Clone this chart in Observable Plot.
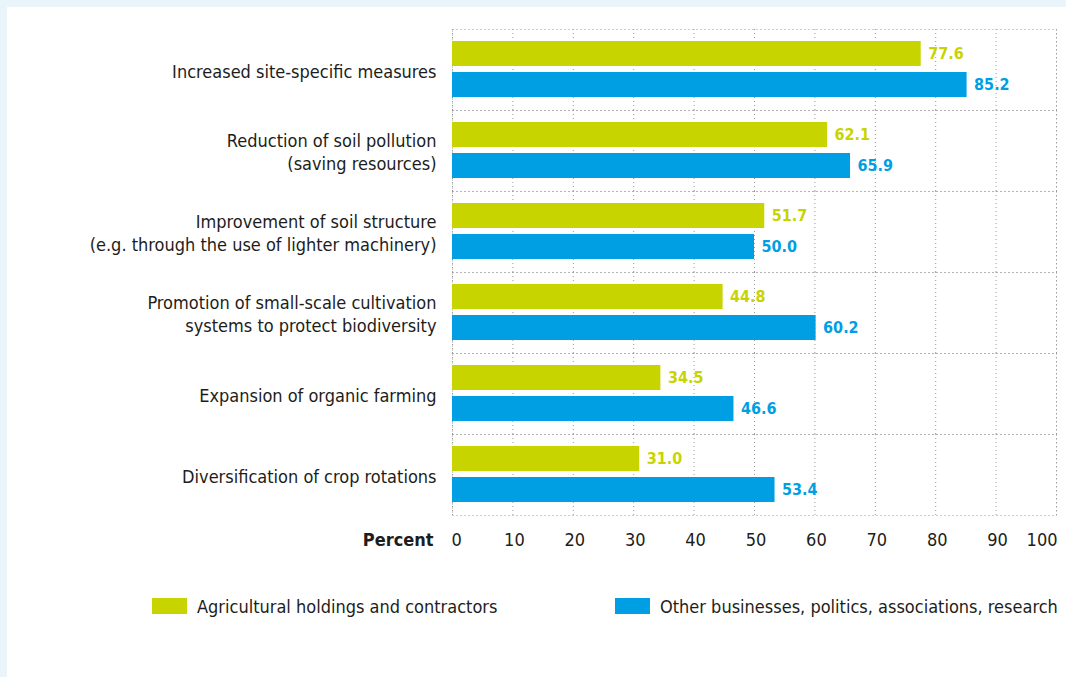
<!DOCTYPE html>
<html>
<head>
<meta charset="utf-8">
<script src="https://cdn.jsdelivr.net/npm/d3@7"></script>
<script src="https://cdn.jsdelivr.net/npm/@observablehq/plot@0.6"></script>
<style>
  html, body { margin: 0; padding: 0; width: 1066px; height: 677px; overflow: hidden; background: #eaf5fb; }
  #panel { position: absolute; left: 7px; top: 7px; right: 0; bottom: 0; background: #ffffff; }
  #chart { position: absolute; left: 0; top: 0; }
  .lg { position: absolute; display: flex; align-items: center; font-family: "DejaVu Sans Condensed", sans-serif; font-size: 18px; color: #1d1d1b; }
  .sw { width: 35px; height: 16px; margin-right: 10px; }
</style>
</head>
<body>
<div id="panel">
  <div id="chart"></div>
</div>
<script>
const categories = [
  "Increased site-specific measures",
  "Reduction of soil pollution\n(saving resources)",
  "Improvement of soil structure\n(e.g. through the use of lighter machinery)",
  "Promotion of small-scale cultivation\nsystems to protect biodiversity",
  "Expansion of organic farming",
  "Diversification of crop rotations"
];
const seriesNames = ["Agricultural holdings and contractors", "Other businesses, politics, associations, research"];
const agri = [77.6, 62.1, 51.7, 44.8, 34.5, 31.0];
const other = [85.2, 65.9, 50.0, 60.2, 46.6, 53.4];
const xTicks = [0, 10, 20, 30, 40, 50, 60, 70, 80, 90, 100];
const axisLabel = "Percent";
const colors = ["#c8d400", "#009fe3"];

const data = [];
categories.forEach((c, i) => {
  data.push({cat: c, series: seriesNames[0], value: agri[i]});
  data.push({cat: c, series: seriesNames[1], value: other[i]});
});
const lastCat = categories[categories.length - 1];
const font = "DejaVu Sans Condensed, sans-serif";
const ink = "#1d1d1b";

const chart = Plot.plot({
  width: 1059,
  height: 560,
  marginLeft: 445,
  marginRight: 10,
  marginTop: 21,
  marginBottom: 52,
  style: {fontFamily: font, background: "transparent", overflow: "visible"},
  x: {domain: [0, 100], axis: null},
  y: {domain: seriesNames, paddingInner: 0.1875, paddingOuter: 0.36, axis: null},
  fy: {domain: categories, padding: 0, axis: null},
  color: {domain: seriesNames, range: colors},
  marks: [
    Plot.gridX(xTicks, {stroke: "#9a9a9a", strokeOpacity: 1, strokeDasharray: "1,3", strokeWidth: 1}),
    Plot.frame({stroke: "#9a9a9a", strokeDasharray: "1,3", strokeWidth: 1}),
    Plot.barX(data, {x: "value", y: "series", fy: "cat", fill: "series"}),
    Plot.text(data, {x: "value", y: "series", fy: "cat", text: d => d.value.toFixed(1), fill: "series",
      textAnchor: "start", dx: 7, fontSize: 16, fontWeight: "bold"}),
    Plot.text(categories, {fy: d => d, x: () => 0, text: d => d, textAnchor: "end", dx: -16,
      fontSize: 18, lineHeight: 1.3, fill: ink}),
    Plot.text([xTicks[0]], {x: d => d, fy: () => lastCat, text: d => String(d), frameAnchor: "bottom",
      dy: 30, textAnchor: "start", dx: -1, fontSize: 18, fill: ink}),
    Plot.text(xTicks.slice(1, -1), {x: d => d, fy: () => lastCat, text: d => String(d), frameAnchor: "bottom",
      dy: 30, textAnchor: "middle", dx: 1.5, fontSize: 18, fill: ink}),
    Plot.text([xTicks[xTicks.length - 1]], {x: d => d, fy: () => lastCat, text: d => String(d), frameAnchor: "bottom",
      dy: 30, textAnchor: "end", dx: 1, fontSize: 18, fill: ink}),
    Plot.text([axisLabel], {x: () => 0, fy: () => lastCat, text: d => d, frameAnchor: "bottom",
      dy: 30, textAnchor: "end", dx: -19, fontSize: 18, fontWeight: "bold", fill: ink})
  ]
});
document.getElementById("chart").appendChild(chart);

const panel = document.getElementById("panel");
const legendPos = [{left: 145, top: 591}, {left: 608, top: 591}];
seriesNames.forEach((s, i) => {
  const item = document.createElement("div");
  item.className = "lg";
  item.style.left = legendPos[i].left + "px";
  item.style.top = legendPos[i].top + "px";
  item.style.height = "16px";
  const sw = document.createElement("div");
  sw.className = "sw";
  sw.style.background = colors[i];
  const tx = document.createElement("span");
  tx.textContent = s;
  item.appendChild(sw);
  item.appendChild(tx);
  panel.appendChild(item);
});
</script>
</body>
</html>
